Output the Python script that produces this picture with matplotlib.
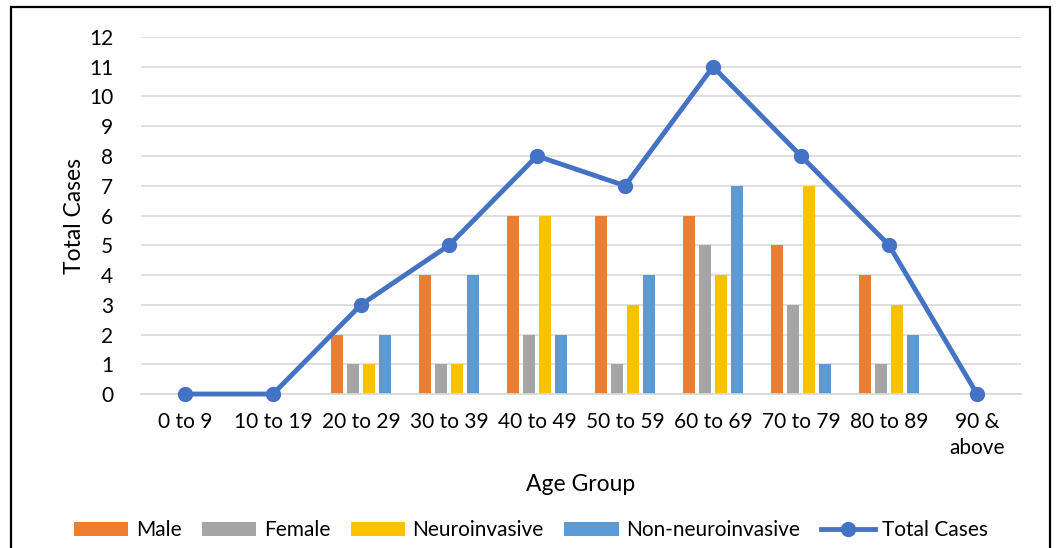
import numpy as np
import matplotlib
matplotlib.use("Agg")
import matplotlib.pyplot as plt
from matplotlib.patches import Rectangle

plt.rcParams['font.family'] = ['Lato', 'DejaVu Sans']

# data
age_groups = ["0 to 9", "10 to 19", "20 to 29", "30 to 39", "40 to 49",
              "50 to 59", "60 to 69", "70 to 79", "80 to 89", "90 &\nabove"]
male = [0, 0, 2, 4, 6, 6, 6, 5, 4, 0]
female = [0, 0, 1, 1, 2, 1, 5, 3, 1, 0]
neuro = [0, 0, 1, 1, 6, 3, 4, 7, 3, 0]
non_neuro = [0, 0, 2, 4, 2, 4, 7, 1, 2, 0]
total = [0, 0, 3, 5, 8, 7, 11, 8, 5, 0]

series = [("Male", male, "#ED7D31"),
          ("Female", female, "#A5A5A5"),
          ("Neuroinvasive", neuro, "#FFC000"),
          ("Non-neuroinvasive", non_neuro, "#5B9BD5")]

fig = plt.figure(figsize=(10.56, 5.48), dpi=100)
ax = fig.add_axes([0.1335, 0.281, 0.8334, 0.6515])

x = np.arange(len(age_groups))
bw = 12 / 88
step = 16 / 88
handles = []
for i, (name, vals, col) in enumerate(series):
    h = ax.bar(x + (i - 1.5) * step, vals, width=bw, color=col, label=name, zorder=2)
    handles.append(h)

line, = ax.plot(x, total, color="#4472C4", lw=3.5, marker="o", markersize=10,
                label="Total Cases", zorder=3, clip_on=False)
handles.append(line)

ax.set_xlim(-0.5, len(age_groups) - 0.5)
ax.set_ylim(0, 12)
ax.set_yticks(range(0, 13))
ax.set_xticks(x)
ax.set_xticklabels(age_groups, linespacing=1.35)
ax.tick_params(axis="both", length=0, labelsize=15, colors="black")
ax.tick_params(axis="y", pad=20)
ax.tick_params(axis="x", pad=13)
ax.grid(axis="y", color="#D9D9D9", lw=1.2, zorder=0)
for s in ["top", "right", "left"]:
    ax.spines[s].set_visible(False)
ax.spines["bottom"].set_color("#D9D9D9")
ax.spines["bottom"].set_linewidth(1.2)

ax.set_xlabel("Age Group", fontsize=16.5, labelpad=12)
ax.set_ylabel("Total Cases", fontsize=16.5, labelpad=3)

fig.legend(handles=handles, loc="center", bbox_to_anchor=(0.503, 0.032), ncol=5,
           frameon=False, fontsize=15, handlelength=2.6, handletextpad=0.35,
           columnspacing=1.0)

# outer chart border
fig.add_artist(Rectangle((11 / 1056, -0.02), 1039 / 1056, 1.02 - 7 / 548,
                         transform=fig.transFigure, fill=False,
                         edgecolor="black", lw=1.6))

fig.savefig("out.png", dpi=100)
